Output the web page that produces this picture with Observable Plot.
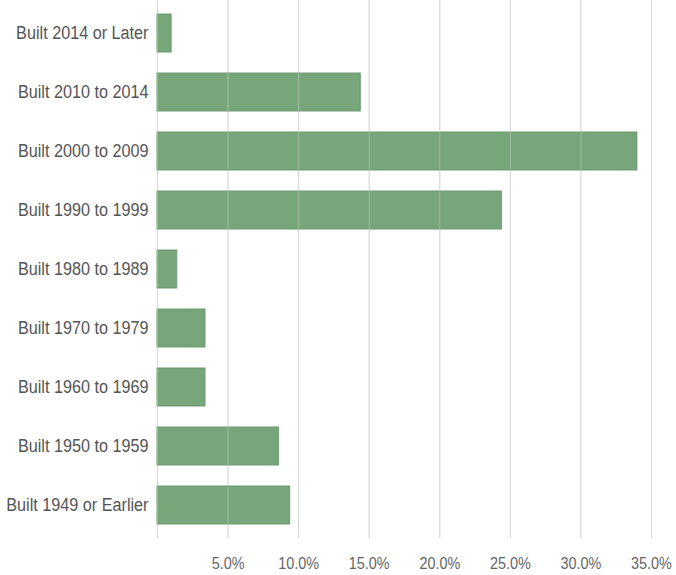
<!DOCTYPE html>
<html>
<head>
<meta charset="utf-8">
<script src="https://cdn.jsdelivr.net/npm/d3@7"></script>
<script src="https://cdn.jsdelivr.net/npm/@observablehq/plot@0.6"></script>
<style>
  html, body { margin: 0; padding: 0; background: #fff; }
  #chart { width: 676px; height: 575px; }
</style>
</head>
<body>
<div id="chart"></div>
<script>
const categories = [
  "Built 2014 or Later",
  "Built 2010 to 2014",
  "Built 2000 to 2009",
  "Built 1990 to 1999",
  "Built 1980 to 1989",
  "Built 1970 to 1979",
  "Built 1960 to 1969",
  "Built 1950 to 1959",
  "Built 1949 or Earlier"
];
const values = [1.0, 14.4, 34.0, 24.4, 1.4, 3.4, 3.4, 8.6, 9.4];
const xTicks = [5, 10, 15, 20, 25, 30, 35];
const gridValues = [0, 5, 10, 15, 20, 25, 30, 35];

const data = categories.map((c, i) => ({category: c, value: values[i]}));

const chart = Plot.plot({
  width: 676,
  height: 575,
  marginLeft: 157,
  marginRight: 25,
  marginTop: 0,
  marginBottom: 37,
  style: {fontFamily: "'Liberation Sans', Arial, sans-serif", background: "#fff"},
  x: {domain: [0, 35]},
  y: {domain: categories, paddingInner: 0.36, paddingOuter: 0.19},
  marks: [
    Plot.ruleX(gridValues, {stroke: "#cfcfcf", strokeWidth: 1}),
    Plot.barX(data, {x: "value", y: "category", fill: "#78a67b", stroke: "#6c9a70", strokeWidth: 1}),
    Plot.ruleX(gridValues, {stroke: "#e6e6e6", strokeWidth: 1, strokeOpacity: 0.35}),
    Plot.axisX({ticks: xTicks, tickSize: 0, tickPadding: 19, tickFormat: d => d.toFixed(1) + "%", fontSize: 16, fill: "#666", label: null}),
    Plot.axisY({tickSize: 0, tickPadding: 9, fontSize: 18, fill: "#555", label: null})
  ]
});

document.getElementById("chart").appendChild(chart);

function squeeze(selector, factor) {
  chart.querySelectorAll(selector).forEach(t => {
    const len = t.getComputedTextLength();
    t.setAttribute("textLength", (len * factor).toFixed(2));
    t.setAttribute("lengthAdjust", "spacingAndGlyphs");
  });
}
squeeze('g[aria-label="y-axis tick label"] text', 0.9);
squeeze('g[aria-label="x-axis tick label"] text', 0.9);
</script>
</body>
</html>
